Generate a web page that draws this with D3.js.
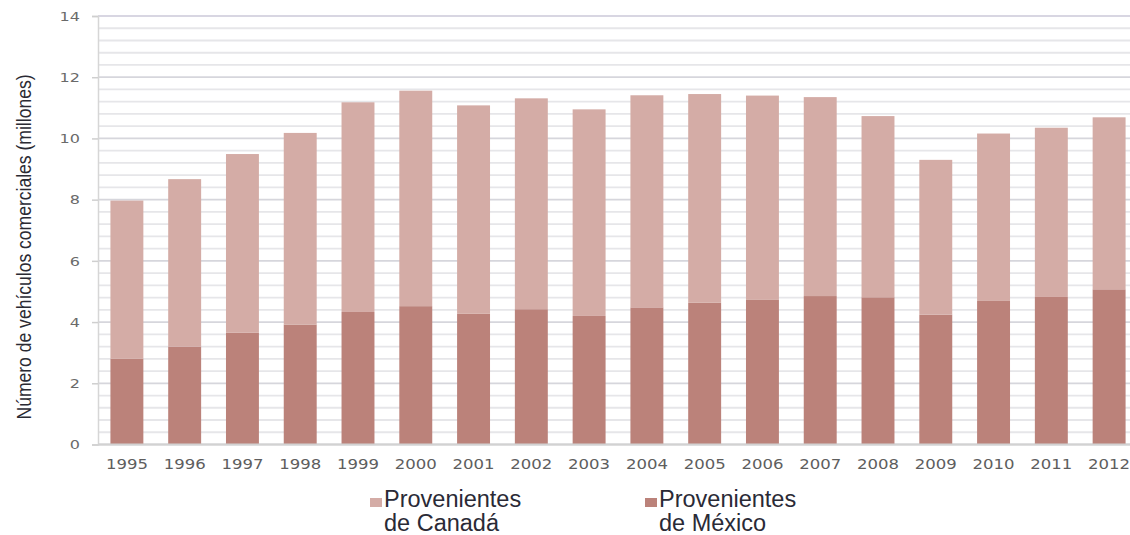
<!DOCTYPE html>
<html lang="es">
<head>
<meta charset="utf-8">
<title>Vehículos comerciales</title>
<script src="https://cdn.jsdelivr.net/npm/d3@7"></script>
<style>
  html, body { margin: 0; padding: 0; background: #ffffff; }
  svg { display: block; }
</style>
</head>
<body>
<svg id="chart" width="1130" height="535"></svg>
<script>
// Cruces de vehículos comerciales por año (millones)
const years = ["1995","1996","1997","1998","1999","2000","2001","2002","2003",
               "2004","2005","2006","2007","2008","2009","2010","2011","2012"];
const fromMexico = [2.8, 3.2, 3.65, 3.92, 4.33, 4.52, 4.27, 4.42, 4.2,
                    4.48, 4.63, 4.74, 4.85, 4.81, 4.24, 4.69, 4.82, 5.07];
const fromCanada = [5.17, 5.47, 5.84, 6.26, 6.85, 7.04, 6.81, 6.89, 6.75,
                    6.93, 6.82, 6.66, 6.5, 5.92, 5.06, 5.47, 5.53, 5.62];
const yTickValues = [0, 2, 4, 6, 8, 10, 12, 14];
const seriesNames = ["Provenientes de Canadá", "Provenientes de México"];
const legendLines = [["Provenientes", "de Canadá"], ["Provenientes", "de México"]];

const colors = { canada: "#d4aca6", mexico: "#bb827a" };

const svg = d3.select("#chart");
const plot = { left: 98, right: 1130, top: 16, bottom: 444.5 };

const x = d3.scaleBand()
  .domain(years)
  .range([plot.left, 1138])
  .paddingInner(0.43)
  .paddingOuter(0.215);

const y = d3.scaleLinear()
  .domain([0, 14])
  .range([plot.bottom, plot.top]);

// Minor gridlines every 0.4
const minorTicks = d3.range(36).map(i => +(i * 0.4).toFixed(1)).filter(v => v <= 14);
svg.append("g")
  .selectAll("line")
  .data(minorTicks)
  .join("line")
  .attr("x1", plot.left)
  .attr("x2", plot.right)
  .attr("y1", d => y(d))
  .attr("y2", d => y(d))
  .attr("stroke", d => (Math.abs(d % 2) < 1e-6 || Math.abs(d % 2 - 2) < 1e-6) ? "#d6d6dc" : "#e6e6e9")
  .attr("stroke-width", 1.8);

// Top border line
svg.append("line")
  .attr("x1", plot.left).attr("x2", plot.right)
  .attr("y1", y(14)).attr("y2", y(14))
  .attr("stroke", "#d8d6e2").attr("stroke-width", 2);

// Stacked bars
const stacked = years.map((yr, i) => ({ year: yr, mexico: fromMexico[i], canada: fromCanada[i] }));
const stack = d3.stack().keys(["mexico", "canada"])(stacked);

svg.append("g")
  .selectAll("g")
  .data(stack)
  .join("g")
  .attr("fill", d => colors[d.key])
  .selectAll("rect")
  .data(d => d)
  .join("rect")
  .attr("x", d => x(d.data.year))
  .attr("width", x.bandwidth())
  .attr("y", d => y(d[1]))
  .attr("height", d => y(d[0]) - y(d[1]));

// Y axis
const yAxis = svg.append("g")
  .attr("transform", `translate(${plot.left},0)`)
  .call(d3.axisLeft(y).tickValues(yTickValues).tickSize(6).tickPadding(12).tickFormat(d3.format("d")));
yAxis.select(".domain").attr("stroke", "#d6d6d6").attr("stroke-width", 1.5);
yAxis.selectAll(".tick line").attr("stroke", "#cfcfcf").attr("stroke-width", 1.5);
yAxis.selectAll(".tick text")
  .attr("fill", "#6a6a6a")
  .style("font-family", "'DejaVu Sans', sans-serif")
  .style("font-size", "13px")
  .attr("textLength", d => String(d).length * 10.2)
  .attr("lengthAdjust", "spacingAndGlyphs");

// X axis
const xAxis = svg.append("g")
  .attr("transform", `translate(0,${plot.bottom})`)
  .call(d3.axisBottom(x).tickSize(0).tickPadding(15));
xAxis.select(".domain")
  .attr("d", `M${plot.left},0H${plot.right}`)
  .attr("stroke", "#d2d2d2").attr("stroke-width", 1.8);
xAxis.selectAll(".tick text")
  .attr("fill", "#5e5e5e")
  .style("font-family", "'DejaVu Sans', sans-serif")
  .style("font-size", "14px")
  .attr("textLength", 42)
  .attr("lengthAdjust", "spacingAndGlyphs");

// Y axis title
svg.append("text")
  .attr("transform", "translate(31,247) rotate(-90)")
  .attr("text-anchor", "middle")
  .attr("fill", "#2a2a33")
  .style("font-family", "'Liberation Sans', Arial, sans-serif")
  .style("font-size", "21px")
  .attr("textLength", 345)
  .attr("lengthAdjust", "spacingAndGlyphs")
  .text("Número de vehículos comerciales (millones)");

// Legend
const legendItems = [
  { key: "canada", name: seriesNames[0], lines: legendLines[0], x: 370 },
  { key: "mexico", name: seriesNames[1], lines: legendLines[1], x: 645 }
];
const legend = svg.append("g")
  .selectAll("g")
  .data(legendItems)
  .join("g")
  .attr("transform", d => `translate(${d.x},0)`);
legend.append("rect")
  .attr("x", 0).attr("y", 498)
  .attr("width", 12).attr("height", 9)
  .attr("fill", d => colors[d.key]);
legend.append("text")
  .attr("fill", "#2a2a36")
  .style("font-family", "'Liberation Sans', Arial, sans-serif")
  .style("font-size", "23.5px")
  .selectAll("tspan")
  .data(d => d.lines)
  .join("tspan")
  .attr("x", 14)
  .attr("y", (d, i) => 507 + i * 24)
  .text(d => d);
</script>
</body>
</html>
